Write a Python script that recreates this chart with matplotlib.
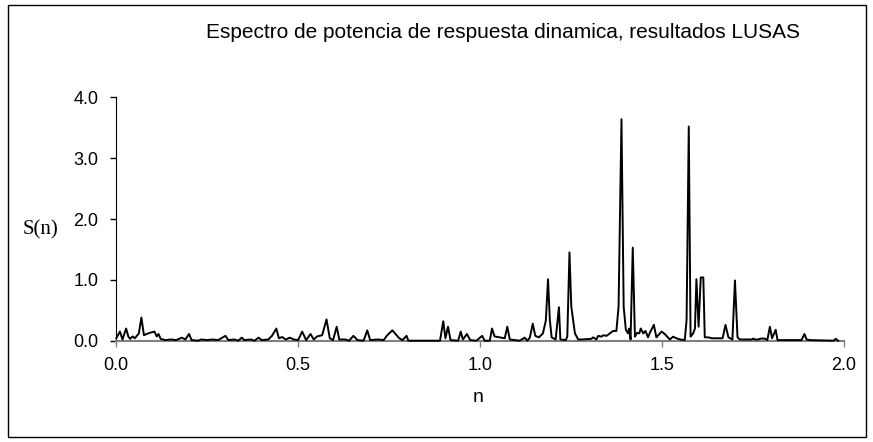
import matplotlib
matplotlib.use("Agg")
import matplotlib.pyplot as plt
from matplotlib.patches import Rectangle
from matplotlib.ticker import FormatStrFormatter

# frecuencia n y espectro S(n)
n_vals = [
    0.000, 0.010, 0.017, 0.027, 0.033, 0.038, 0.045, 0.051, 0.062, 0.069,
    0.076, 0.083, 0.093, 0.105, 0.111, 0.116, 0.122, 0.135, 0.150, 0.165,
    0.180, 0.190, 0.200, 0.207, 0.225, 0.233, 0.250, 0.265, 0.280, 0.300,
    0.308, 0.325, 0.335, 0.345, 0.352, 0.370, 0.380, 0.391, 0.400, 0.418,
    0.428, 0.440, 0.447, 0.456, 0.466, 0.477, 0.488, 0.500, 0.511, 0.522,
    0.534, 0.543, 0.552, 0.566, 0.578, 0.587, 0.596, 0.606, 0.613, 0.630,
    0.640, 0.652, 0.663, 0.680, 0.690, 0.698, 0.720, 0.735, 0.745, 0.759,
    0.778, 0.787, 0.798, 0.803, 0.890, 0.899, 0.905, 0.912, 0.919, 0.940,
    0.947, 0.953, 0.964, 0.973, 0.990, 1.006, 1.013, 1.027, 1.033, 1.040,
    1.054, 1.068, 1.075, 1.082, 1.109, 1.123, 1.130, 1.137, 1.145, 1.152,
    1.162, 1.173, 1.181, 1.187, 1.192, 1.197, 1.208, 1.217, 1.221, 1.236,
    1.240, 1.246, 1.251, 1.261, 1.270, 1.279, 1.306, 1.311, 1.320, 1.325,
    1.334, 1.339, 1.348, 1.357, 1.366, 1.375, 1.381, 1.389, 1.395, 1.401,
    1.407, 1.410, 1.414, 1.420, 1.426, 1.432, 1.438, 1.442, 1.449, 1.455,
    1.462, 1.467, 1.478, 1.485, 1.499, 1.508, 1.522, 1.531, 1.540, 1.550,
    1.563, 1.568, 1.574, 1.579, 1.586, 1.591, 1.595, 1.601, 1.607, 1.614,
    1.618, 1.628, 1.637, 1.667, 1.675, 1.683, 1.694, 1.701, 1.708, 1.715,
    1.747, 1.751, 1.756, 1.765, 1.772, 1.783, 1.790, 1.797, 1.803, 1.813,
    1.818, 1.884, 1.892, 1.898, 1.907, 1.972, 1.978, 1.985,
]
s_vals = [
    0.04, 0.15, 0.02, 0.20, 0.07, 0.03, 0.07, 0.04, 0.12, 0.38,
    0.09, 0.11, 0.13, 0.15, 0.07, 0.11, 0.03, 0.01, 0.02, 0.01,
    0.05, 0.02, 0.11, 0.01, 0.00, 0.02, 0.01, 0.02, 0.01, 0.08,
    0.01, 0.02, 0.00, 0.05, 0.01, 0.02, 0.00, 0.05, 0.01, 0.02,
    0.08, 0.20, 0.04, 0.06, 0.02, 0.05, 0.02, 0.01, 0.15, 0.01,
    0.11, 0.02, 0.07, 0.09, 0.35, 0.04, 0.01, 0.23, 0.02, 0.02,
    0.00, 0.08, 0.01, 0.00, 0.17, 0.01, 0.02, 0.01, 0.09, 0.17,
    0.04, 0.01, 0.08, 0.00, 0.00, 0.32, 0.04, 0.23, 0.01, 0.00,
    0.15, 0.02, 0.11, 0.01, 0.00, 0.08, 0.00, 0.00, 0.20, 0.07,
    0.055, 0.04, 0.23, 0.02, 0.00, 0.05, 0.00, 0.05, 0.28, 0.08,
    0.055, 0.12, 0.33, 1.01, 0.34, 0.055, 0.02, 0.55, 0.02, 0.01,
    0.07, 1.45, 0.56, 0.12, 0.02, 0.02, 0.03, 0.055, 0.02, 0.08,
    0.066, 0.09, 0.08, 0.12, 0.16, 0.16, 0.56, 3.64, 0.56, 0.18,
    0.12, 0.20, 0.02, 1.53, 0.066, 0.13, 0.12, 0.20, 0.12, 0.16,
    0.055, 0.13, 0.26, 0.055, 0.15, 0.11, 0.02, 0.066, 0.04, 0.02,
    0.01, 0.34, 3.52, 0.066, 0.12, 0.20, 1.01, 0.23, 1.04, 1.04,
    0.055, 0.055, 0.04, 0.04, 0.26, 0.055, 0.02, 0.99, 0.055, 0.02,
    0.02, 0.035, 0.02, 0.02, 0.035, 0.035, 0.01, 0.23, 0.04, 0.18,
    0.01, 0.01, 0.11, 0.02, 0.01, 0.00, 0.03, 0.00,
]

x_ticks = [0.0, 0.5, 1.0, 1.5, 2.0]
y_ticks = [0.0, 1.0, 2.0, 3.0, 4.0]

W, H = 873, 442
fig = plt.figure(figsize=(W / 100, H / 100), dpi=100)
ax = fig.add_axes([116.3 / W, 1 - 340.7 / H, (843.7 - 116.3) / W, (340.7 - 97.3) / H])

ax.plot(n_vals, s_vals, color="black", lw=1.4, clip_on=False, zorder=3)

ax.set_xlim(0, 2)
ax.set_ylim(0, 4)
ax.set_xticks(x_ticks)
ax.set_yticks(y_ticks)
ax.xaxis.set_major_formatter(FormatStrFormatter("%.1f"))
ax.yaxis.set_major_formatter(FormatStrFormatter("%.1f"))

for side in ["top", "right"]:
    ax.spines[side].set_visible(False)
ax.spines["left"].set_color("black")
ax.spines["bottom"].set_color("#808080")
ax.spines["bottom"].set_linewidth(1.5)

ax.tick_params(axis="y", direction="out", length=4, width=1, color="black", pad=9,
               labelsize=13, labelfontfamily="Liberation Sans")
ax.tick_params(axis="x", direction="out", length=4, width=1, color="#808080", pad=8,
               labelsize=13, labelfontfamily="Liberation Sans")

fig.text(503 / W, 1 - 33 / H, "Espectro de potencia de respuesta dinamica, resultados LUSAS",
         ha="center", va="center", fontsize=15, family="Liberation Sans")
fig.text(478 / W, 1 - 398 / H, "n", ha="center", va="center", fontsize=14,
         family="Liberation Sans")
fig.text(40 / W, 1 - 230 / H, "S(n)", ha="center", va="center", fontsize=15,
         family="Liberation Serif")

# marco exterior del grafico
fig.patches.append(Rectangle((8 / W, 5 / H), (866 - 8) / W, (437 - 5) / H,
                             transform=fig.transFigure, fill=False,
                             edgecolor="black", lw=1))

fig.savefig("out.png", dpi=100)
